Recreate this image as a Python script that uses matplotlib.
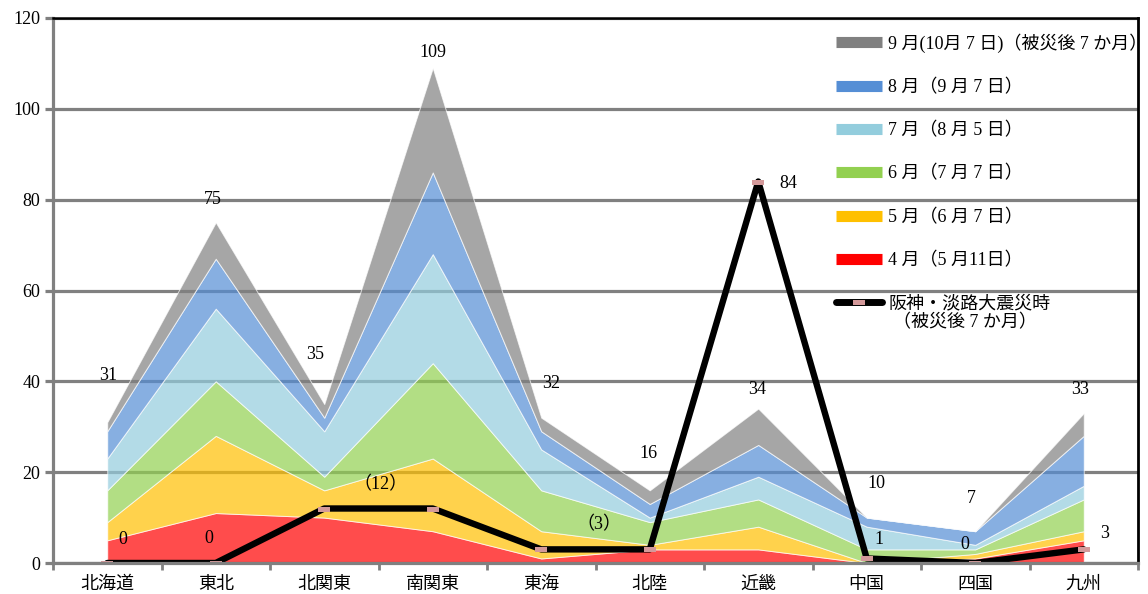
import matplotlib
matplotlib.use("Agg")
import matplotlib.pyplot as plt
from matplotlib.lines import Line2D
from matplotlib.path import Path
from matplotlib.ticker import FixedLocator, MultipleLocator

FONT = ["Liberation Serif", "Noto Sans CJK JP", "DejaVu Sans"]
plt.rcParams["font.family"] = FONT

# ---- data -------------------------------------------------------------
regions = ["北海道", "東北", "北関東", "南関東", "東海", "北陸", "近畿", "中国", "四国", "九州"]

apr = [5, 11, 10, 7, 1, 3, 3, 0, 1, 5]
may = [4, 17, 6, 16, 6, 1, 5, 0, 1, 2]
jun = [7, 12, 3, 21, 9, 5, 6, 3, 1, 7]
jul = [7, 16, 10, 24, 9, 1, 5, 5, 1, 3]
aug = [6, 11, 3, 18, 4, 3, 7, 2, 3, 11]
sep = [2, 8, 3, 23, 3, 3, 8, 0, 0, 5]

quake = [0, 0, 12, 12, 3, 3, 84, 1, 0, 3]

series_labels = [
    "4 月（5 月11日）",
    "5 月（6 月 7 日）",
    "6 月（7 月 7 日）",
    "7 月（8 月 5 日）",
    "8 月（9 月 7 日）",
    "9 月(10月 7 日)（被災後 7 か月）",
]
quake_label = "阪神・淡路大震災時"
quake_label_sub = "（被災後 7 か月）"

# ---- style ------------------------------------------------------------
colors = ["#ff0000", "#ffc000", "#92d050", "#93cddd", "#558ed5", "#808080"]
grid_grey = "#808080"
marker_pink = "#d4999a"

# offsets of the value labels from their marks (data units)
total_offsets = [(0.01, 10.2), (-0.03, 5.0), (-0.08, 10.8), (0.0, 3.3), (0.09, 7.6),
                 (-0.01, 8.2), (-0.01, 4.1), (0.09, 7.6), (-0.04, 7.3), (-0.03, 5.1)]
# (index, dx, dy, in parentheses)
quake_label_spec = [(0, 0.14, 5.1, False), (1, -0.06, 5.5, False), (2, 0.52, 5.2, True),
                    (4, 0.53, 5.4, True), (6, 0.28, -0.5, False), (7, 0.11, 4.1, False),
                    (8, -0.10, 4.0, False), (9, 0.19, 3.6, False)]

fig = plt.figure(figsize=(11.48, 5.94), dpi=100)
ax = fig.add_axes([53 / 1148, 31 / 594, 1085 / 1148, 545 / 594])

x = list(range(len(regions)))
layers = [apr, may, jun, jul, aug, sep]

ax.stackplot(x, *layers, colors=colors, alpha=0.7, zorder=2,
             edgecolor=(1, 1, 1, 0.6), linewidth=0.7)

# horizontal grid
ax.set_ylim(0, 120)
ax.set_xlim(-0.5, len(regions) - 0.5)
ax.yaxis.set_major_locator(MultipleLocator(20))
ax.grid(axis="y", color=grid_grey, linewidth=2.3, zorder=1)
ax.set_axisbelow(True)

# earthquake line with small rectangular markers
rect = Path([(-1, -0.45), (1, -0.45), (1, 0.45), (-1, 0.45), (-1, -0.45)],
            [Path.MOVETO, Path.LINETO, Path.LINETO, Path.LINETO, Path.CLOSEPOLY])
ax.plot(x, quake, color="black", linewidth=4.6, solid_capstyle="round",
        solid_joinstyle="round", zorder=4)
ax.plot(x, quake, linestyle="none", marker=rect, markersize=8,
        markerfacecolor=marker_pink, markeredgewidth=0, zorder=5)

# totals above the stacked areas
totals = [sum(v) for v in zip(*layers)]
for i, (t, (dx, dy)) in enumerate(zip(totals, total_offsets)):
    ax.text(i + dx, t + dy, str(t), ha="center", va="center", fontsize=13, zorder=6)

for idx, dx, dy, paren in quake_label_spec:
    v = quake[idx]
    s = f"（{v}）" if paren else str(v)
    ax.text(idx + dx, v + dy, s, ha="center", va="center", fontsize=13, zorder=6)

# axes frame
ax.spines["left"].set_color(grid_grey)
ax.spines["left"].set_linewidth(2.3)
ax.spines["bottom"].set_color(grid_grey)
ax.spines["bottom"].set_linewidth(2.3)
ax.spines["top"].set_color("black")
ax.spines["top"].set_linewidth(1.8)
ax.spines["right"].set_color("black")
ax.spines["right"].set_linewidth(2.0)
for s in ax.spines.values():
    s.set_zorder(7)

ax.set_xticks(x)
ax.set_xticklabels(regions, fontsize=13)
ax.xaxis.set_minor_locator(FixedLocator([i - 0.5 for i in range(len(regions) + 1)]))
ax.tick_params(axis="x", which="major", length=0, pad=9)
ax.tick_params(axis="x", which="minor", length=5, width=2, color=grid_grey)
ax.tick_params(axis="y", length=6, width=2.3, color=grid_grey, labelsize=13, pad=3)

# legend: months from latest to earliest, then the earthquake line
handles = [Line2D([], [], color=c, linewidth=8, solid_capstyle="butt") for c in colors[::-1]]
handles.append(Line2D([], [], color="black", linewidth=5, solid_capstyle="round",
                      marker=rect, markersize=8, markerfacecolor=marker_pink,
                      markeredgewidth=0, markevery=[1]))
labels = series_labels[::-1] + [quake_label]
fig.legend(handles, labels, loc="upper left", bbox_to_anchor=(836 / 1148, 1 - 33 / 594),
           frameon=False, fontsize=13, handlelength=2.55, handletextpad=0.35,
           labelspacing=1.45, borderpad=0, borderaxespad=0)
fig.text(893 / 1148, 1 - 323 / 594, quake_label_sub, fontsize=13, ha="left", va="center")

fig.savefig("out.png", dpi=100)
